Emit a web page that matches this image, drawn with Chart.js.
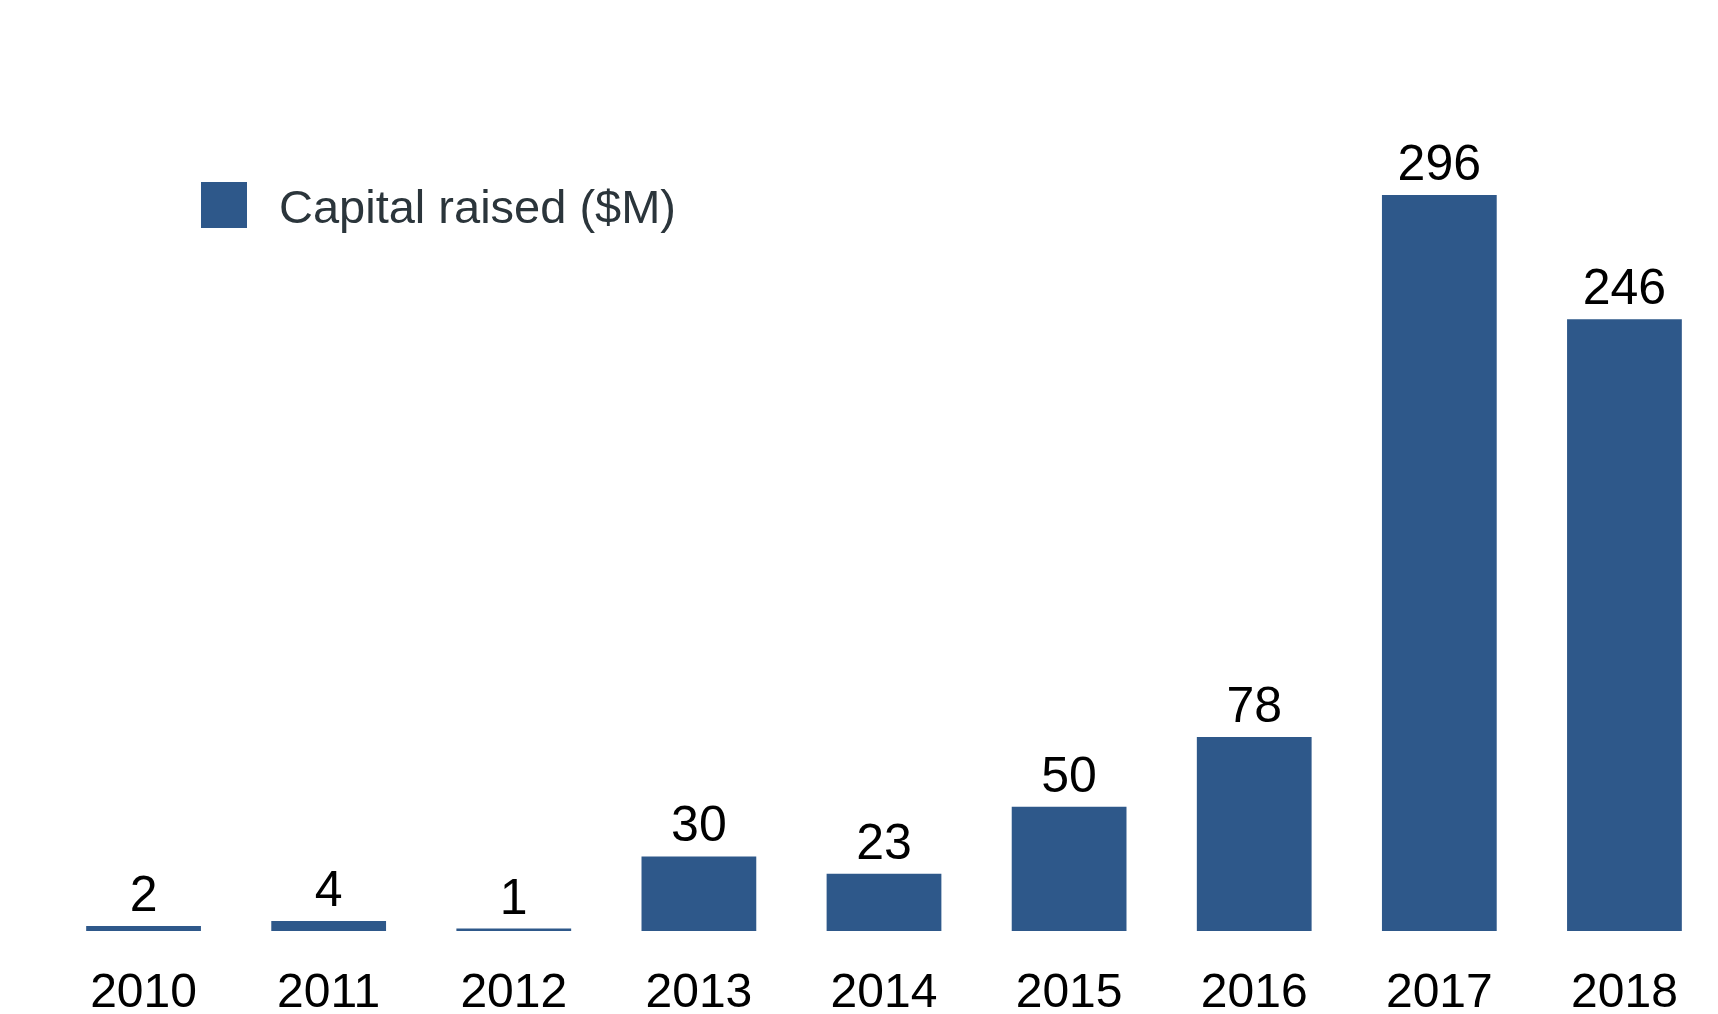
<!doctype html>
<html lang="en">
<head>
  <meta charset="utf-8">
  <title>Capital raised ($M)</title>
  <style>
    * {
      margin: 0;
      padding: 0;
    }
    html, body {
      width: 1718px;
      height: 1014px;
      overflow: hidden;
      background: white;
    }
    .chartBox {
      position: relative;
      width: 1718px;
      height: 1014px;
    }
  </style>
</head>
<body>
<div class="chartBox">
  <canvas id="myChart"></canvas>
</div>

<script src="https://cdn.jsdelivr.net/npm/chart.js"></script>
<script>
  // data
  const years = ['2010', '2011', '2012', '2013', '2014', '2015', '2016', '2017', '2018'];
  const capitalRaised = [2, 4, 1, 30, 23, 50, 78, 296, 246];
  const seriesName = 'Capital raised ($M)';

  const barColor = '#2e588a';
  const fontFamily = '"Liberation Sans", Arial, Helvetica, sans-serif';

  // value labels above each bar
  const valueLabels = {
    id: 'valueLabels',
    afterDatasetsDraw(chart) {
      const ctx = chart.ctx;
      const meta = chart.getDatasetMeta(0);
      ctx.save();
      ctx.font = '50px ' + fontFamily;
      ctx.fillStyle = '#000';
      ctx.textAlign = 'center';
      ctx.textBaseline = 'alphabetic';
      meta.data.forEach((bar, i) => {
        ctx.fillText(String(chart.data.datasets[0].data[i]), bar.x, bar.y - 15);
      });
      ctx.restore();
    }
  };

  // legend floating inside the plot
  const floatLegend = {
    id: 'floatLegend',
    afterDraw(chart) {
      const ctx = chart.ctx;
      const left = chart.chartArea.left + 150;
      const top = 182;
      ctx.save();
      ctx.fillStyle = barColor;
      ctx.fillRect(left, top, 46, 46);
      ctx.font = '47px ' + fontFamily;
      ctx.fillStyle = '#2b353b';
      ctx.textAlign = 'left';
      ctx.textBaseline = 'alphabetic';
      ctx.fillText(chart.data.datasets[0].label, left + 78, top + 41);
      ctx.restore();
    }
  };

  const data = {
    labels: years,
    datasets: [{
      label: seriesName,
      data: capitalRaised,
      backgroundColor: barColor,
      borderWidth: 0,
      barPercentage: 0.62,
      categoryPercentage: 1.0
    }]
  };

  const config = {
    type: 'bar',
    data,
    options: {
      responsive: true,
      maintainAspectRatio: false,
      animation: false,
      layout: {
        padding: { top: 185, left: 51, right: 1, bottom: -35 }
      },
      scales: {
        x: {
          grid: { display: false },
          border: { display: false },
          ticks: {
            color: '#000',
            padding: 31,
            font: { family: fontFamily, size: 48, lineHeight: 1.0 }
          }
        },
        y: {
          display: false,
          min: 0,
          max: 300
        }
      },
      plugins: {
        legend: { display: false },
        tooltip: { enabled: false }
      }
    },
    plugins: [valueLabels, floatLegend]
  };

  const myChart = new Chart(document.getElementById('myChart'), config);
</script>
</body>
</html>
